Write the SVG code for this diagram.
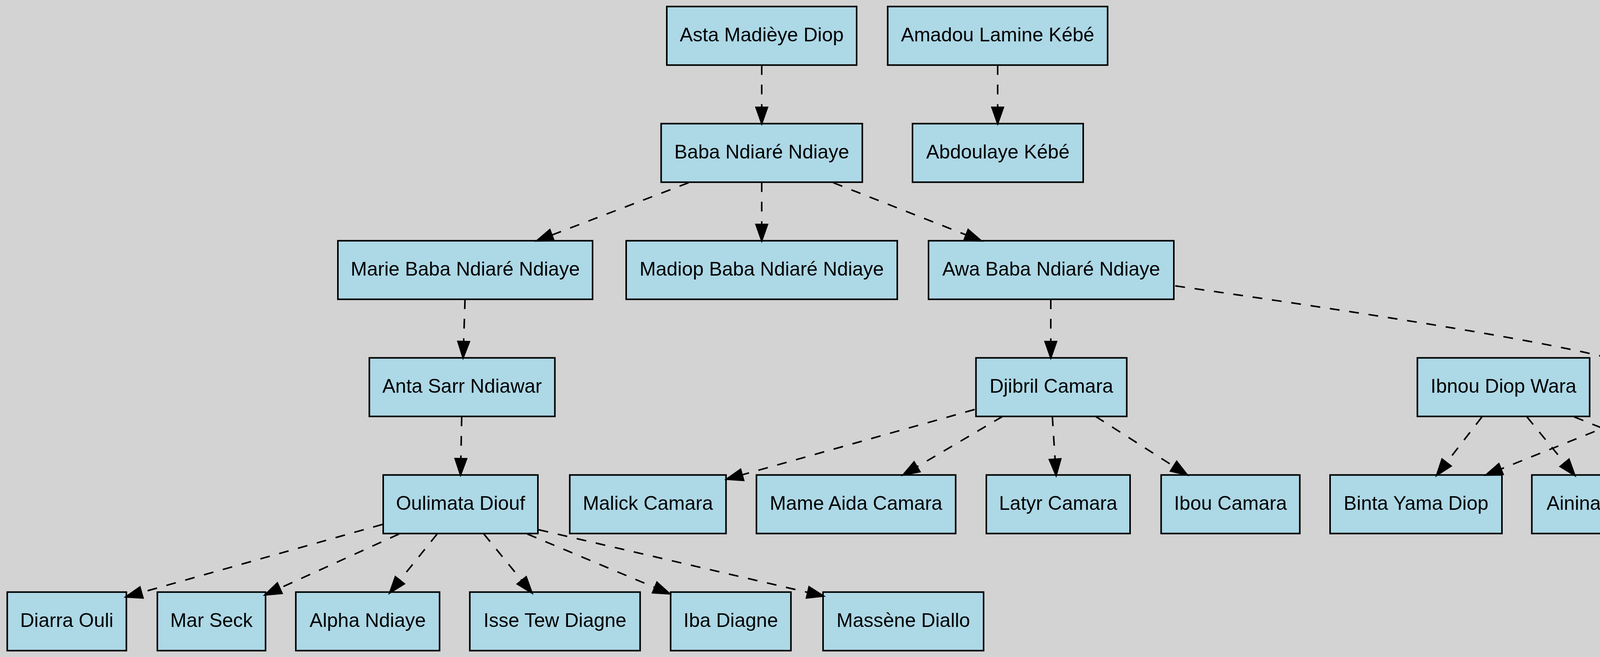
<svg xmlns="http://www.w3.org/2000/svg" width="5337" height="1683" viewBox="0 0 5337 1683">
<style>
.node rect{fill:#ADD8E6;stroke:#000;stroke-width:4}
.node text{font-family:"Liberation Sans",Arial,sans-serif;font-size:50px;fill:#000;text-anchor:middle}
.edge{fill:none;stroke:#000;stroke-width:4;stroke-dasharray:25,25;marker-end:url(#ah)}
</style>
<defs>
<marker id="ah" markerUnits="userSpaceOnUse" markerWidth="60" markerHeight="40" viewBox="-5 -20 60 40" refX="0" refY="0" orient="auto" overflow="visible">
<path d="M0,-14.6 L41.7,0 L0,14.6 Z" fill="#000" stroke="#000" stroke-width="4" stroke-dasharray="none"/>
</marker>
</defs>
<rect x="0" y="0" width="5337" height="1683" fill="#D3D3D3"/>

<g id="node-asta" class="node"><rect x="1707" y="16.7" width="486" height="150"/><text x="1950" y="105.7">Asta Madièye Diop</text></g>
<g id="node-amadou" class="node"><rect x="2272.5" y="16.7" width="563" height="150"/><text x="2554" y="105.7">Amadou Lamine Kébé</text></g>
<g id="node-baba" class="node"><rect x="1692.5" y="316.7" width="515" height="150"/><text x="1950" y="405.7">Baba Ndiaré Ndiaye</text></g>
<g id="node-abdoulaye" class="node"><rect x="2336" y="316.7" width="437" height="150"/><text x="2554.5" y="405.7">Abdoulaye Kébé</text></g>
<g id="node-marie" class="node"><rect x="865" y="616.7" width="652" height="150"/><text x="1191" y="705.7">Marie Baba Ndiaré Ndiaye</text></g>
<g id="node-madiop" class="node"><rect x="1603" y="616.7" width="694" height="150"/><text x="1950" y="705.7">Madiop Baba Ndiaré Ndiaye</text></g>
<g id="node-awa" class="node"><rect x="2377" y="616.7" width="628" height="150"/><text x="2691" y="705.7">Awa Baba Ndiaré Ndiaye</text></g>
<g id="node-anta" class="node"><rect x="945.5" y="916.7" width="475" height="150"/><text x="1183" y="1005.7">Anta Sarr Ndiawar</text></g>
<g id="node-djibril" class="node"><rect x="2498.5" y="916.7" width="386" height="150"/><text x="2691.5" y="1005.7">Djibril Camara</text></g>
<g id="node-ibnou" class="node"><rect x="3628.5" y="916.7" width="441" height="150"/><text x="3849" y="1005.7">Ibnou Diop Wara</text></g>
<g id="node-penda" class="node"><rect x="4152.5" y="916.7" width="403" height="150"/><text x="4354" y="1005.7">Penda Camara</text></g>
<g id="node-oulimata" class="node"><rect x="981" y="1216.7" width="396" height="150"/><text x="1179" y="1305.7">Oulimata Diouf</text></g>
<g id="node-malick" class="node"><rect x="1458.6" y="1216.7" width="400" height="150"/><text x="1658.6" y="1305.7">Malick Camara</text></g>
<g id="node-mame" class="node"><rect x="1936.5" y="1216.7" width="510" height="150"/><text x="2191.5" y="1305.7">Mame Aida Camara</text></g>
<g id="node-latyr" class="node"><rect x="2525" y="1216.7" width="368" height="150"/><text x="2709" y="1305.7">Latyr Camara</text></g>
<g id="node-ibou" class="node"><rect x="2972.5" y="1216.7" width="355" height="150"/><text x="3150" y="1305.7">Ibou Camara</text></g>
<g id="node-binta" class="node"><rect x="3405" y="1216.7" width="440" height="150"/><text x="3625" y="1305.7">Binta Yama Diop</text></g>
<g id="node-ainina" class="node"><rect x="3921.5" y="1216.7" width="331" height="150"/><text x="4087" y="1305.7">Ainina Diop</text></g>
<g id="node-magatte" class="node"><rect x="4332" y="1216.7" width="502" height="150"/><text x="4583" y="1305.7">Magatte Diop Ibnou</text></g>
<g id="node-yaye" class="node"><rect x="4913.6" y="1216.7" width="406" height="150"/><text x="5116.6" y="1305.7">Yaye Awa Diop</text></g>
<g id="node-diarra" class="node"><rect x="18.5" y="1516.7" width="305" height="150"/><text x="171" y="1605.7">Diarra Ouli</text></g>
<g id="node-mar" class="node"><rect x="402.8" y="1516.7" width="277" height="150"/><text x="541.3" y="1605.7">Mar Seck</text></g>
<g id="node-alpha" class="node"><rect x="757.3" y="1516.7" width="368" height="150"/><text x="941.3" y="1605.7">Alpha Ndiaye</text></g>
<g id="node-isse" class="node"><rect x="1202.7" y="1516.7" width="436" height="150"/><text x="1420.7" y="1605.7">Isse Tew Diagne</text></g>
<g id="node-iba" class="node"><rect x="1716.8" y="1516.7" width="308" height="150"/><text x="1870.8" y="1605.7">Iba Diagne</text></g>
<g id="node-massene" class="node"><rect x="2107" y="1516.7" width="411" height="150"/><text x="2312.5" y="1605.7">Massène Diallo</text></g>

<g id="edges">
<path class="edge" d="M1950,166.7 L1950,275"/>
<path class="edge" d="M2554,166.7 L2554,275"/>
<path class="edge" d="M1763,468 L1412.7,602.1"/>
<path class="edge" d="M1950,466.7 L1950,575"/>
<path class="edge" d="M2133,468 L2473.2,601.7"/>
<path class="edge" d="M1190.5,766.7 L1186.9,875"/>
<path class="edge" d="M2690,766.7 L2690,875"/>
<path class="edge" d="M3008.6,732.3 Q3875,856 4112,915.5"/>
<path class="edge" d="M1182,1066.7 L1179.8,1175"/>
<path class="edge" d="M2495,1049 L1899.8,1216.4"/>
<path class="edge" d="M2566.7,1066.7 L2347.5,1195.8"/>
<path class="edge" d="M2694,1066.7 L2701,1176.4"/>
<path class="edge" d="M2804.7,1066.7 L3004.4,1194.3"/>
<path class="edge" d="M3793.8,1068 L3703.2,1185"/>
<path class="edge" d="M3909,1068 L4005.3,1185.7"/>
<path class="edge" d="M4030,1068 L4364.3,1201.3"/>
<path class="edge" d="M4175,1068 L3842.4,1201.5"/>
<path class="edge" d="M4288,1068 L4178.2,1187.3"/>
<path class="edge" d="M4409.7,1068 L4503,1185.4"/>
<path class="edge" d="M4542,1068 L4894,1201.9"/>
<path class="edge" d="M979.3,1343.3 L362.1,1517.7"/>
<path class="edge" d="M1021.5,1368 L716,1506.8"/>
<path class="edge" d="M1119,1368 L1023.6,1486.5"/>
<path class="edge" d="M1238.8,1368 L1335.6,1486.7"/>
<path class="edge" d="M1350,1368 L1676.2,1504.9"/>
<path class="edge" d="M1379,1357 L2067.9,1517.5"/>
</g>
</svg>
